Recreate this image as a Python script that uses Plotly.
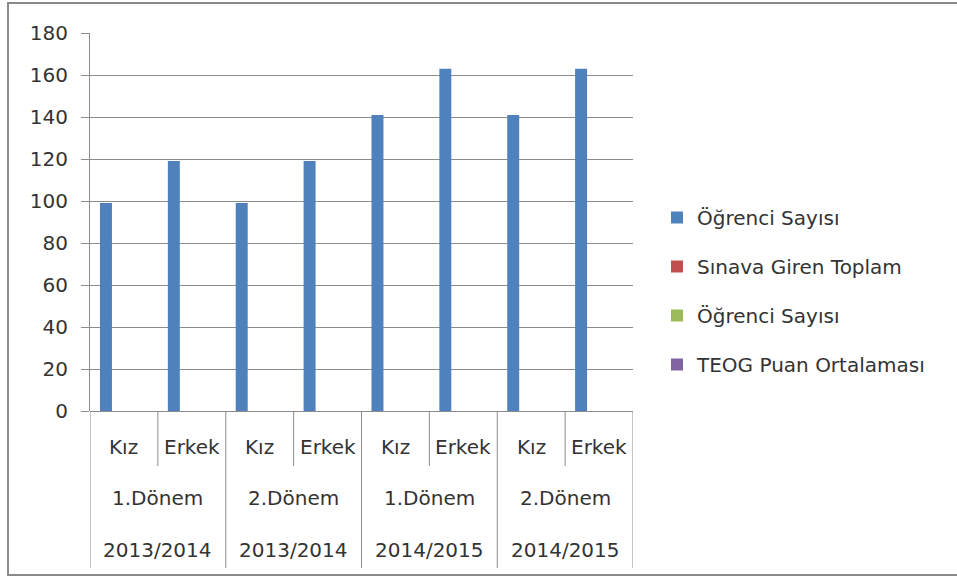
import plotly.graph_objects as go

# ---- data ----
gender = ["Kız", "Erkek", "Kız", "Erkek", "Kız", "Erkek", "Kız", "Erkek"]
term = ["1.Dönem", "2.Dönem", "1.Dönem", "2.Dönem"]
year = ["2013/2014", "2013/2014", "2014/2015", "2014/2015"]
ogrenci_sayisi = [99, 119, 99, 119, 141, 163, 141, 163]
sinava_giren = [None] * 8
ogrenci_sayisi_2 = [None] * 8
teog_ortalama = [None] * 8
series_names = ["Öğrenci Sayısı", "Sınava Giren Toplam", "Öğrenci Sayısı", "TEOG Puan Ortalaması"]
series_colors = ["#4F81BD", "#C0504D", "#9BBB59", "#8064A2"]
y_ticks = [0, 20, 40, 60, 80, 100, 120, 140, 160, 180]

W, H = 957, 577
L, R, T, B = 90, 957 - 633, 33, 577 - 411
pw, ph = W - L - R, H - T - B

FONT = "'DejaVu Sans', sans-serif"
FS = 20
TXT = "#333333"
GRID = "#8c8c8c"

x_idx = list(range(len(gender)))
fig = go.Figure()
for name, vals, col in zip(series_names, [ogrenci_sayisi, sinava_giren, ogrenci_sayisi_2, teog_ortalama], series_colors):
    fig.add_trace(go.Bar(x=x_idx, y=vals, name=name, marker=dict(color=col, line=dict(width=0)),
                         legendgroup=name + col))

def py(pix):  # pixel y (from top) -> paper y
    return (H - B - pix) / ph

shapes = []
annotations = []
# level 1 labels and short separators
for i, g in enumerate(gender):
    annotations.append(dict(x=i, y=py(447), xref="x", yref="paper", text=g, showarrow=False,
                            font=dict(size=FS, color=TXT, family=FONT), xanchor="center", yanchor="middle"))
    if i % 2 == 1:
        shapes.append(dict(type="line", xref="x", yref="paper", x0=i - 0.5, x1=i - 0.5,
                           y0=0, y1=py(466), line=dict(color=GRID, width=1)))
# level 2 & 3 labels
for j, (t, yv) in enumerate(zip(term, year)):
    annotations.append(dict(x=2 * j + 0.5, y=py(498), xref="x", yref="paper", text=t, showarrow=False,
                            font=dict(size=FS, color=TXT, family=FONT), xanchor="center", yanchor="middle"))
    annotations.append(dict(x=2 * j + 0.5, y=py(550), xref="x", yref="paper", text=yv, showarrow=False,
                            font=dict(size=FS, color=TXT, family=FONT), xanchor="center", yanchor="middle"))
# long separators
for k in range(0, len(gender) + 1, 2):
    shapes.append(dict(type="line", xref="x", yref="paper", x0=k - 0.5, x1=k - 0.5,
                       y0=0, y1=py(568), line=dict(color=GRID, width=1)))
# chart-area border
shapes.append(dict(type="rect", xref="paper", yref="paper",
                   x0=(8 - L) / pw, x1=(962 - L) / pw, y0=py(575), y1=py(3),
                   line=dict(color="#8a8a8a", width=2), fillcolor="rgba(0,0,0,0)", layer="below"))

fig.update_layout(
    width=W, height=H,
    margin=dict(l=L, r=R, t=T, b=B, pad=0),
    paper_bgcolor="white", plot_bgcolor="white",
    barmode="group", bargap=0.294, bargroupgap=0,
    font=dict(family=FONT, size=FS, color=TXT),
    showlegend=True,
    legend=dict(x=(657 - L) / pw, xanchor="left", y=py(291), yanchor="middle",
                font=dict(size=FS, color=TXT, family=FONT), tracegroupgap=20,
                bgcolor="rgba(0,0,0,0)", itemwidth=30),
    xaxis=dict(range=[-0.5, len(gender) - 0.5], showticklabels=False, showgrid=False,
               zeroline=False, showline=False, ticks=""),
    yaxis=dict(range=[0, 180], tickvals=y_ticks, showgrid=True, gridcolor=GRID, gridwidth=1,
               zeroline=True, zerolinecolor=GRID, zerolinewidth=1,
               showline=True, linecolor=GRID, linewidth=1,
               ticks="outside", ticklen=8, tickcolor=GRID, ticklabelstandoff=9,
               tickfont=dict(size=FS, color=TXT, family=FONT)),
    shapes=shapes, annotations=annotations,
)

fig.write_html("out.html", config={"displayModeBar": False},
               post_script="document.body.style.margin='0';document.body.style.overflow='hidden';")
